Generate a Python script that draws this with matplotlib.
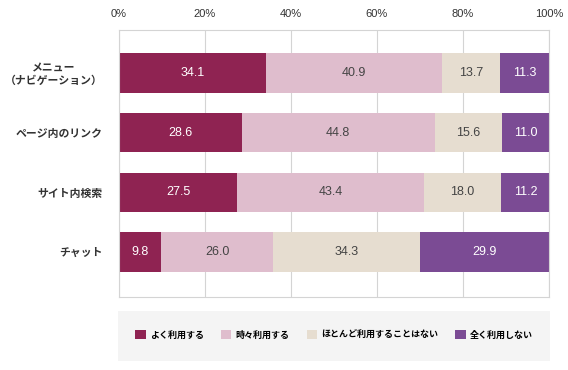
import matplotlib
matplotlib.use('Agg')
import matplotlib.pyplot as plt
from matplotlib.patches import Rectangle, Patch
import numpy as np

plt.rcParams['font.family'] = ['Noto Sans CJK JP', 'DejaVu Sans']
num_font = ['Liberation Sans', 'DejaVu Sans']

# data
categories = ['メニュー\n（ナビゲーション）', 'ページ内のリンク', 'サイト内検索', 'チャット']
series_names = ['よく利用する', '時々利用する', 'ほとんど利用することはない', '全く利用しない']
often = [34.1, 28.6, 27.5, 9.8]
sometimes = [40.9, 44.8, 43.4, 26.0]
rarely = [13.7, 15.6, 18.0, 34.3]
never = [11.3, 11.0, 11.2, 29.9]
ticks = [0, 20, 40, 60, 80, 100]

colors = ['#8f2352', '#dfbdcd', '#e6ddd0', '#7b4b94']
text_colors = ['white', '#444444', '#444444', 'white']

fig = plt.figure(figsize=(5.68, 3.70), dpi=100)
ax = fig.add_axes([119/568, 1-297/370, 430/568, 267/370])

y = np.arange(len(categories))
left = np.zeros(len(categories))
for vals, col, tc in zip([often, sometimes, rarely, never], colors, text_colors):
    vals = np.array(vals)
    ax.barh(y, vals, left=left, height=0.66, color=col, zorder=2)
    for yi, l, v in zip(y, left, vals):
        ax.text(l + v/2, yi, f'{v:.1f}', ha='center', va='center',
                color=tc, fontsize=9, family=num_font, zorder=3)
    left += vals

ax.set_xlim(0, 100)
ax.set_ylim(3.75, -0.72)
ax.set_xticks(ticks)
ax.set_xticklabels([f'{t}%' for t in ticks], family=num_font)
ax.xaxis.tick_top()
ax.tick_params(axis='x', length=0, pad=8, labelsize=8, colors='#333333')
ax.set_yticks(y)
ax.set_yticklabels(categories, fontweight='bold', fontsize=7.8, multialignment='center')
ax.tick_params(axis='y', length=0, pad=12, colors='#333333')
ax.grid(axis='x', color='#d4d4d4', linewidth=0.8, zorder=0)
for s in ax.spines.values():
    s.set_color('#d4d4d4')
    s.set_linewidth(0.8)

# legend area
fig.patches.append(Rectangle((118/568, 1-361/370), 432/568, 50/370,
                             transform=fig.transFigure, facecolor='#f4f4f4',
                             edgecolor='none', zorder=0))
handles = [Patch(facecolor=c, edgecolor='none') for c in colors]
fig.legend(handles, series_names, loc='center', bbox_to_anchor=(334/568, 1-335/370),
           ncol=4, frameon=False, handlelength=1.15, handleheight=1.15,
           handletextpad=0.45, columnspacing=1.9, prop={'weight': 'bold', 'size': 6.5})

fig.savefig('out.png', dpi=100)
